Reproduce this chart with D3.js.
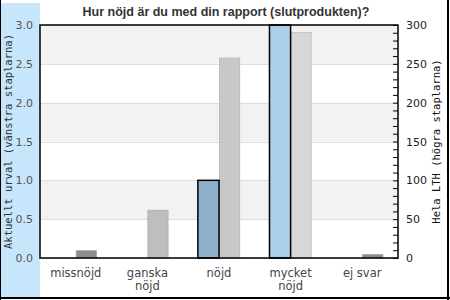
<!DOCTYPE html>
<html>
<head>
<meta charset="utf-8">
<script src="https://cdnjs.cloudflare.com/ajax/libs/d3/7.8.5/d3.min.js"></script>
<style>
  body { margin: 0; background: #fff; }
  svg { display: block; }
</style>
</head>
<body>
<div id="chart"></div>
<script>
// data
const categories = ["missnöjd", "ganska\nnöjd", "nöjd", "mycket\nnöjd", "ej svar"];
const urvalValues = [0, 0, 1, 3, 0];          // left axis
const lthValues = [10, 62, 258, 291, 5];      // right axis
const leftTicks = [0, 0.5, 1, 1.5, 2, 2.5, 3];
const rightTicks = [0, 50, 100, 150, 200, 250, 300];
const title = "Hur nöjd är du med din rapport (slutprodukten)?";
const leftTitle = "Aktuellt urval (vänstra staplarna)";
const rightTitle = "Hela LTH (högra staplarna)";

// styles per bar
const urvalFill = ["#8eb0cc", "#8eb0cc", "#8eb0cc", "#aacfeb", "#8eb0cc"];
const lthFill = ["#8c8c8c", "#bebebe", "#c8c8c8", "#d7d7d7", "#8c8c8c"];
const lthStroke = ["#a6a6a6", "#b3b3b3", "#bcbcbc", "#c6c6c6", "#a6a6a6"];

const width = 450, height = 300;
const plot = {left: 40, right: 398, top: 25, bottom: 258};

const svg = d3.select("#chart").append("svg")
    .attr("width", width)
    .attr("height", height);

// outer frame and blue side band
svg.append("rect").attr("x", 1).attr("y", 3).attr("width", 39).attr("height", 294).attr("fill", "#c8e6fb");
svg.append("line").attr("x1", 0.5).attr("x2", 0.5).attr("y1", 0).attr("y2", 300).attr("stroke", "#000");
svg.append("line").attr("x1", 448).attr("x2", 448).attr("y1", 0).attr("y2", 300).attr("stroke", "#000").attr("stroke-width", 2);
svg.append("line").attr("x1", 0).attr("x2", 450).attr("y1", 298).attr("y2", 298).attr("stroke", "#000").attr("stroke-width", 2);

const x = d3.scaleBand()
    .domain(categories)
    .range([plot.left, plot.right])
    .paddingInner(0);

const yL = d3.scaleLinear().domain([0, 3]).range([plot.bottom, plot.top]);
const yR = d3.scaleLinear().domain([0, 300]).range([plot.bottom, plot.top]);

// alternating bands
const bands = d3.pairs(leftTicks).filter((p, i) => i % 2 === 1);
svg.append("g").selectAll("rect")
    .data(bands)
    .enter().append("rect")
    .attr("x", plot.left)
    .attr("width", plot.right - plot.left)
    .attr("y", d => yL(d[1]))
    .attr("height", d => yL(d[0]) - yL(d[1]))
    .attr("fill", "#f2f2f2");

// gridlines
svg.append("g").selectAll("line")
    .data(leftTicks)
    .enter().append("line")
    .attr("x1", plot.left).attr("x2", plot.right)
    .attr("y1", d => Math.round(yL(d)) + 0.5)
    .attr("y2", d => Math.round(yL(d)) + 0.5)
    .attr("stroke", "#dedede");

const barW = x.bandwidth() * 0.295;
const rows = categories.map((c, i) => ({cat: c, urval: urvalValues[i], lth: lthValues[i], i: i}));

// right series (Hela LTH)
svg.append("g").selectAll("rect")
    .data(rows)
    .enter().append("rect")
    .attr("x", d => x(d.cat) + x.bandwidth() / 2 + 0.5)
    .attr("width", barW - 1)
    .attr("y", d => yR(d.lth) + 0.5)
    .attr("height", d => yR(0) - yR(d.lth) - 0.5)
    .attr("fill", d => lthFill[d.i])
    .attr("stroke", d => lthStroke[d.i]);

// left series (Aktuellt urval)
svg.append("g").selectAll("rect")
    .data(rows.filter(d => d.urval > 0))
    .enter().append("rect")
    .attr("x", d => x(d.cat) + x.bandwidth() / 2 - barW)
    .attr("width", barW)
    .attr("y", d => yL(d.urval))
    .attr("height", d => yL(0) - yL(d.urval))
    .attr("fill", d => urvalFill[d.i])
    .attr("stroke", "#000")
    .attr("stroke-width", 1.5);

// plot frame
svg.append("rect")
    .attr("x", plot.left).attr("y", plot.top)
    .attr("width", plot.right - plot.left)
    .attr("height", plot.bottom - plot.top)
    .attr("fill", "none")
    .attr("stroke", "#000")
    .attr("stroke-width", 1.5);

// left axis
const gL = svg.append("g")
    .attr("transform", `translate(${plot.left},0)`)
    .call(d3.axisLeft(yL).tickValues(leftTicks).tickFormat(d3.format(".1f")).tickSize(0).tickPadding(7));
gL.select(".domain").remove();
gL.selectAll("text")
    .attr("font-family", "DejaVu Sans")
    .attr("font-size", 11)
    .attr("fill", "#555");

// right axis with minor ticks
const gR = svg.append("g")
    .attr("transform", `translate(${plot.right},0)`)
    .call(d3.axisRight(yR)
        .tickValues(d3.range(0, 301, 10))
        .tickSizeInner(-5).tickSizeOuter(0)
        .tickPadding(8)
        .tickFormat(d => rightTicks.includes(d) ? d : ""));
gR.select(".domain").remove();
gR.selectAll("line").attr("stroke", "#000");
gR.selectAll("text")
    .attr("font-family", "DejaVu Sans")
    .attr("font-size", 11)
    .attr("fill", "#222");

// category labels
const catLabels = svg.append("g").selectAll("text")
    .data(categories)
    .enter().append("text")
    .attr("x", d => x(d) + x.bandwidth() / 2)
    .attr("y", 277)
    .attr("text-anchor", "middle")
    .attr("font-family", "DejaVu Sans")
    .attr("font-size", 11.5)
    .attr("fill", "#444");
catLabels.selectAll("tspan")
    .data(d => d.split("\n"))
    .enter().append("tspan")
    .attr("x", function () { return d3.select(this.parentNode).attr("x"); })
    .attr("dy", (d, i) => i === 0 ? 0 : 12.5)
    .text(d => d);

// title
svg.append("text")
    .attr("x", 226)
    .attr("y", 15.5)
    .attr("text-anchor", "middle")
    .attr("font-family", "Liberation Sans")
    .attr("font-weight", "bold")
    .attr("font-size", 12.5)
    .attr("fill", "#333")
    .text(title);

// axis titles
svg.append("text")
    .attr("transform", `translate(12,${(plot.top + plot.bottom) / 2}) rotate(-90)`)
    .attr("text-anchor", "middle")
    .attr("font-family", "DejaVu Sans Mono")
    .attr("font-size", 10.5)
    .attr("fill", "#333")
    .text(leftTitle);

svg.append("text")
    .attr("transform", `translate(440,${(plot.top + plot.bottom) / 2}) rotate(-90)`)
    .attr("text-anchor", "middle")
    .attr("font-family", "DejaVu Sans Mono")
    .attr("font-size", 10.5)
    .attr("fill", "#111")
    .text(rightTitle);
</script>
</body>
</html>
